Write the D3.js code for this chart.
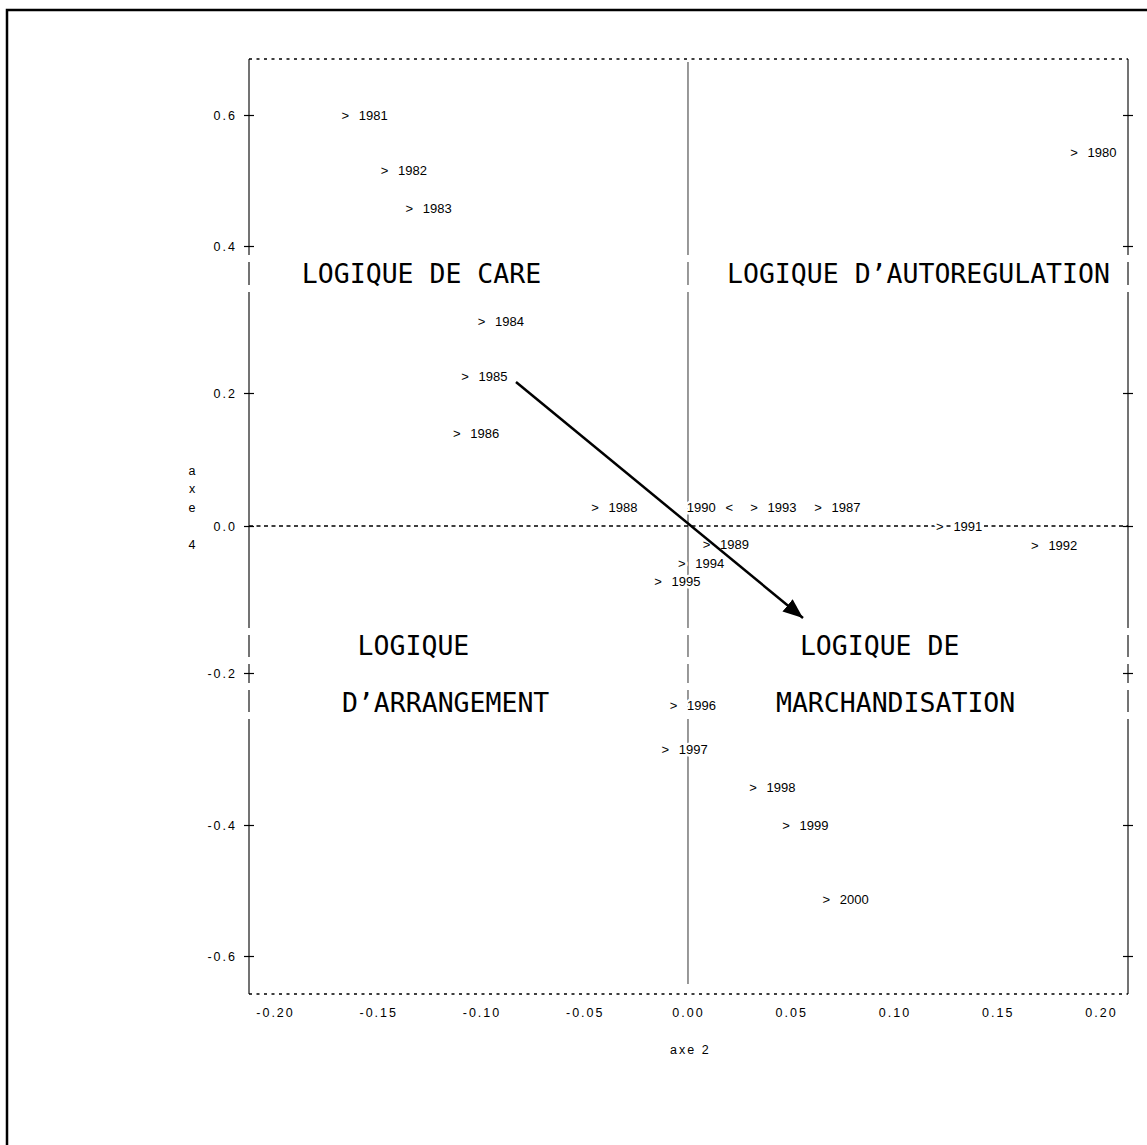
<!DOCTYPE html>
<html>
<head>
<meta charset="utf-8">
<script src="https://cdn.jsdelivr.net/npm/d3@7"></script>
<style>
  body { margin: 0; background: #fff; }
  svg { display: block; }
</style>
</head>
<body>
<svg id="chart"></svg>
<script>
// points: year label, axe 2 (x), axe 4 (y), plotting symbol
const years   = ['1980', '1981', '1982', '1983', '1984', '1985', '1986', '1987', '1988', '1989', '1990',
                 '1991', '1992', '1993', '1994', '1995', '1996', '1997', '1998', '1999', '2000'];
const axe2    = [0.187, -0.166, -0.147, -0.135, -0.100, -0.108, -0.112, 0.063, -0.045, 0.009, 0.020,
                 0.122, 0.168, 0.032, -0.003, -0.0145, -0.007, -0.011, 0.0315, 0.0475, 0.067];
const axe4    = [0.543, 0.600, 0.515, 0.458, 0.298, 0.223, 0.140, 0.028, 0.028, -0.025, 0.028,
                 0.000, -0.026, 0.028, -0.051, -0.075, -0.243, -0.300, -0.350, -0.400, -0.513];
const symbols = ['>', '>', '>', '>', '>', '>', '>', '>', '>', '>', '<',
                 '>', '>', '>', '>', '>', '>', '>', '>', '>', '>'];

const xTicks = [-0.20, -0.15, -0.10, -0.05, 0.00, 0.05, 0.10, 0.15, 0.20];
const yTicks = [-0.6, -0.4, -0.2, 0.0, 0.2, 0.4, 0.6];

// quadrant captions, anchored in data space
const quadText = ['LOGIQUE DE CARE', 'LOGIQUE D’AUTOREGULATION', 'LOGIQUE', 'D’ARRANGEMENT', 'LOGIQUE DE', 'MARCHANDISATION'];
const quadX    = [-0.187, 0.0189, -0.160, -0.1676, 0.0542, 0.0426];
const quadY    = [0.349, 0.349, -0.1755, -0.251, -0.1755, -0.251];

// arrow from 1985 through the origin
const arrowFrom = [-0.0833, 0.215];
const arrowTo   = [0.0557, -0.1252];

const W = 1147, H = 1145;
const plotL = 249, plotR = 1128, plotT = 59, plotB = 994;

const svg = d3.select('#chart')
    .attr('width', W)
    .attr('height', H);

// outer frame (runs off the right and bottom edges)
svg.append('rect')
    .attr('x', 7).attr('y', 10)
    .attr('width', 1200).attr('height', 1200)
    .attr('fill', 'none')
    .attr('stroke', '#000')
    .attr('stroke-width', 2.5);

const x = d3.scaleLinear()
    .domain([-0.2126, 0.2131])
    .range([plotL, plotR]);

// printer-style plot: text rows are not evenly spaced, so the scale has a stop per tick
const y = d3.scaleLinear()
    .domain([-0.658, -0.6, -0.4, -0.2, 0, 0.2, 0.4, 0.6, 0.6855])
    .range([plotB, 956, 825, 673, 526, 393, 246, 115, plotT]);

const numFont = '"Liberation Sans", Arial, sans-serif';

// vertical rules are broken around the tall caption rows
const gaps = [[255, 262], [285, 292], [628, 635], [657, 664], [683, 690], [712, 719]];
function segments(y0, y1) {
    let out = [], cur = y0;
    gaps.forEach(g => {
        if (g[0] > cur && g[0] < y1) { out.push([cur, g[0]]); cur = g[1]; }
    });
    out.push([cur, y1]);
    return out;
}

function vrule(px, y0, y1, color) {
    svg.append('g').selectAll('line')
        .data(segments(y0, y1))
        .join('line')
        .attr('x1', px).attr('x2', px)
        .attr('y1', d => d[0]).attr('y2', d => d[1])
        .attr('stroke', color)
        .attr('stroke-width', 1.5);
}

vrule(plotL, plotT, plotB, '#444');
vrule(plotR, plotT, plotB, '#444');
vrule(x(0), 62, 984, '#777');

// dotted top / bottom, dashed zero line
svg.append('line')
    .attr('x1', plotL).attr('x2', plotR).attr('y1', plotT).attr('y2', plotT)
    .attr('stroke', '#000').attr('stroke-width', 1.3).attr('stroke-dasharray', '3,4.5');
svg.append('line')
    .attr('x1', plotL).attr('x2', plotR).attr('y1', plotB).attr('y2', plotB)
    .attr('stroke', '#000').attr('stroke-width', 1.3).attr('stroke-dasharray', '3,4.5');
svg.append('line')
    .attr('x1', plotL).attr('x2', plotR).attr('y1', y(0)).attr('y2', y(0))
    .attr('stroke', '#000').attr('stroke-width', 1.3).attr('stroke-dasharray', '4,3.5');

// axes
const yAxisL = d3.axisLeft(y).tickValues(yTicks).tickFormat(d => d.toFixed(1)).tickSize(5).tickPadding(7);
const yAxisR = d3.axisRight(y).tickValues(yTicks).tickFormat('').tickSize(5);
const xAxis = d3.axisBottom(x).tickValues(xTicks).tickFormat(d => d.toFixed(2)).tickSize(0).tickPadding(14);

const gl = svg.append('g').attr('transform', `translate(${plotL},0)`).call(yAxisL);
const gr = svg.append('g').attr('transform', `translate(${plotR},0)`).call(yAxisR);
const gb = svg.append('g').attr('transform', `translate(0,${plotB})`).call(xAxis);

[gl, gr, gb].forEach(g => {
    g.select('.domain').remove();
    g.selectAll('text')
        .attr('font-family', numFont)
        .attr('font-size', 12.5)
        .attr('letter-spacing', 2)
        .attr('fill', '#000');
    g.selectAll('.tick line').attr('stroke', '#000').attr('stroke-width', 1.2);
});
gl.selectAll('.tick line').attr('x1', 5);
gr.selectAll('.tick line').attr('x1', -5);
gl.selectAll('text').attr('dy', '0.36em');

// axis titles
svg.append('text')
    .attr('x', 670).attr('y', 1054)
    .attr('font-family', numFont).attr('font-size', 12.5).attr('letter-spacing', 2)
    .text('axe 2');

svg.append('g').selectAll('text')
    .data('axe 4'.split(''))
    .join('text')
    .attr('x', 192)
    .attr('y', (d, i) => 470 + i * 18.7)
    .attr('dy', '0.36em')
    .attr('text-anchor', 'middle')
    .attr('font-family', numFont).attr('font-size', 12.5)
    .text(d => d);

// quadrant captions
svg.append('g').selectAll('text')
    .data(quadText)
    .join('text')
    .attr('x', (d, i) => x(quadX[i]))
    .attr('y', (d, i) => y(quadY[i]))
    .attr('font-family', '"DejaVu Sans Mono", monospace')
    .attr('font-size', 26.5)
    .attr('fill', '#000')
    .text(d => d);

// points: symbol + year, white halo hides the rules beneath
const pts = years.map((yr, i) => ({ year: yr, x: axe2[i], y: axe4[i], sym: symbols[i] }));

const pg = svg.append('g')
    .attr('font-family', numFont)
    .attr('font-size', 13)
    .attr('fill', '#000')
    .attr('stroke', '#fff')
    .attr('stroke-width', 5)
    .attr('stroke-linejoin', 'round')
    .attr('paint-order', 'stroke');

pg.selectAll('.sym')
    .data(pts)
    .join('text')
    .attr('class', 'sym')
    .attr('x', d => x(d.x))
    .attr('y', d => y(d.y))
    .attr('dy', '0.36em')
    .attr('text-anchor', 'middle')
    .text(d => d.sym);

pg.selectAll('.yr')
    .data(pts)
    .join('text')
    .attr('class', 'yr')
    .attr('x', d => x(d.x) + (d.sym === '<' ? -13.5 : 13.5))
    .attr('y', d => y(d.y))
    .attr('dy', '0.36em')
    .attr('text-anchor', d => d.sym === '<' ? 'end' : 'start')
    .text(d => d.year);

// arrow
svg.append('defs').append('marker')
    .attr('id', 'head')
    .attr('markerUnits', 'userSpaceOnUse')
    .attr('viewBox', '0 0 20 16')
    .attr('refX', 20).attr('refY', 8)
    .attr('markerWidth', 20).attr('markerHeight', 16)
    .attr('orient', 'auto')
    .append('path')
    .attr('d', 'M0,0 L20,8 L0,16 Z')
    .attr('fill', '#000');

svg.append('line')
    .attr('x1', x(arrowFrom[0])).attr('y1', y(arrowFrom[1]))
    .attr('x2', x(arrowTo[0])).attr('y2', y(arrowTo[1]))
    .attr('stroke', '#000')
    .attr('stroke-width', 2.5)
    .attr('marker-end', 'url(#head)');
</script>
</body>
</html>
